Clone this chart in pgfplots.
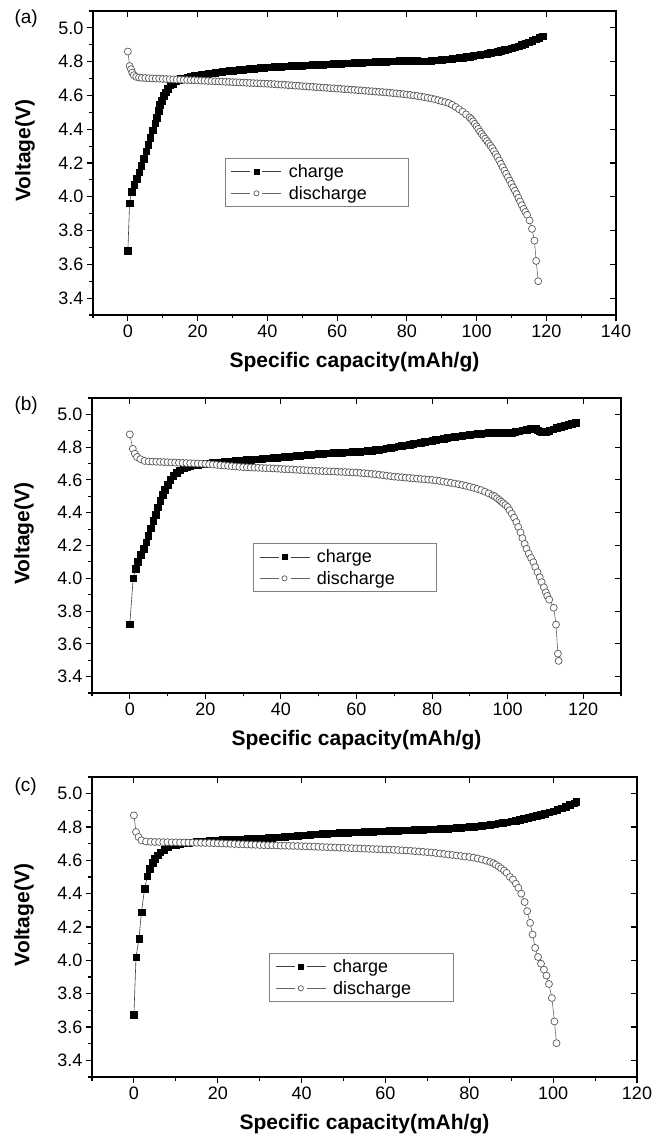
\documentclass[border=0pt]{standalone}
\usepackage{fontspec}
\setmainfont{Liberation Sans}
\usepackage{pgfplots}
\pgfplotsset{compat=1.18}
\pgfplotsset{
 base/.style={scale only axis, anchor=south west,
   ymin=3.3, ymax=5.1, xmin=-10,
   axis line style={line width=1.2pt},
   tick style={line width=1.1pt, black},
   major tick length=6pt, minor tick length=3.5pt,
 },
 main/.style={base,
   tick align=outside, xtick pos=left, ytick pos=left,
   ytick={3.4,3.6,3.8,4.0,4.2,4.4,4.6,4.8,5.0},
   minor ytick={3.3,3.5,3.7,3.9,4.1,4.3,4.5,4.7,4.9,5.1},
   yticklabel style={/pgf/number format/.cd,fixed,fixed zerofill,precision=1},
   /pgf/number format/assume math mode=true,
   tick label style={font=\fontsize{18}{18}\selectfont},
   xlabel={Specific capacity(mAh/g)}, ylabel={Voltage(V)},
   label style={font=\bfseries\fontsize{21}{21}\selectfont},
   x label style={at={([yshift=-47pt]axis description cs:0.5,0)}, anchor=center},
   y label style={at={([xshift=-68pt]axis description cs:0,0.54)}, anchor=center},
   legend cell align=left,
   legend style={draw=gray, line width=0.8pt, font=\fontsize{18}{20}\selectfont, anchor=north west, inner xsep=6pt, inner ysep=4pt, row sep=3pt},
   legend image code/.code={
     \draw[#1,mark=none] (0pt,0pt) -- (19pt,0pt);
     \draw[#1,mark=none] (31pt,0pt) -- (50pt,0pt);
     \draw[#1,mark size=2.6pt] plot coordinates {(25pt,0pt)};
   },
 },
 mirror/.style={base, tick align=inside, xtick pos=right, ytick pos=right,
   xticklabels={}, yticklabels={},
   ytick={3.4,3.6,3.8,4.0,4.2,4.4,4.6,4.8,5.0}},
 chg/.style={draw=black!75, line width=0.6pt, mark=square*, mark size=3.3pt, mark options={fill=black, draw=black, line width=0.3pt}},
 dis/.style={draw=black!60, line width=0.6pt, mark=*, mark size=3.5pt, mark options={fill=white, draw=black!65, line width=0.7pt}},
}
\begin{document}
\begin{tikzpicture}
\path (0pt,0pt) rectangle (671pt,1144pt);
\node[anchor=west, font=\fontsize{19}{19}\selectfont] at (11pt,1125pt) {(a)};
\node[anchor=west, font=\fontsize{19}{19}\selectfont] at (11pt,738pt) {(b)};
\node[anchor=west, font=\fontsize{19}{19}\selectfont] at (11pt,357pt) {(c)};
% ---------------- (a)
\begin{axis}[main, at={(93pt,829pt)}, width=523pt, height=304pt, xmax=140,
  xtick={0,20,...,140}, minor xtick={-10,10,...,130},
  legend style={at={(0.252,0.516)}}]
\addplot[chg] coordinates {(0,3.68)(0.5,3.963)(1.06,4.03)(1.8,4.07)(2.5,4.106)(3.2,4.145)(3.85,4.185)(4.5,4.225)(5.2,4.27)(5.8,4.31)(6.4,4.35)(7.1,4.395)(7.8,4.435)(8.3,4.47)(8.75,4.51)(9.2,4.544)(9.7,4.57)(10.3,4.6)(10.9,4.62)(11.4,4.64)(12.1,4.66)(12.8,4.67)(13.75,4.686)(14.7,4.695)
(15,4.698)(16,4.703)(17,4.708)(18,4.712)(19,4.716)(20,4.72)(21,4.724)(22,4.727)(23,4.73)(24,4.733)(25,4.736)(26,4.738)(27,4.741)(28,4.743)(29,4.745)(30,4.747)(31,4.749)(32,4.751)(33,4.753)(34,4.755)(35,4.757)(36,4.759)(37,4.761)(38,4.763)(39,4.765)(40,4.767)(41,4.768)(42,4.769)(43,4.77)(44,4.771)(45,4.773)(46,4.774)(47,4.775)(48,4.776)(49,4.777)(50,4.778)(51,4.779)(52,4.78)(53,4.781)(54,4.782)(55,4.783)(56,4.784)(57,4.785)(58,4.786)(59,4.787)(60,4.788)(61,4.789)(62,4.79)(63,4.791)(64,4.792)(65,4.793)(66,4.794)(67,4.795)(68,4.796)(69,4.797)(70,4.798)(71,4.799)(72,4.8)(73,4.8)(74,4.801)(75,4.802)(76,4.803)(77,4.804)(78,4.805)(79,4.805)(80,4.806)(81,4.806)(82,4.806)(83,4.805)(84,4.803)(85,4.803)(86,4.804)(87,4.806)(88,4.808)(89,4.81)(90,4.812)(91,4.814)(92,4.816)(93,4.818)(94,4.82)(95,4.822)(96,4.825)(97,4.828)(98,4.831)(99,4.834)(100,4.838)(101,4.841)(102,4.844)(103,4.848)(104,4.852)(105,4.856)(106,4.86)(107,4.865)(108,4.87)(109,4.875)(110,4.88)(111,4.886)(112,4.893)(113,4.9)(114,4.908)(115,4.916)(116,4.925)(117,4.934)(118,4.943)(119,4.952)};
\addlegendentry{\hspace*{5pt}charge}
\addplot[dis] coordinates {(0,4.86)(0.5,4.774)(0.9,4.755)(1.25,4.735)(1.7,4.72)(2.4,4.71)(3.2,4.706)(4,4.704)
(5,4.703)(6,4.702)(7,4.701)(8,4.70)(9,4.699)(10,4.698)(11,4.697)(12,4.696)(13,4.695)(14,4.694)(15,4.693)(16,4.692)(17,4.691)(18,4.69)(19,4.69)(20,4.689)(21,4.688)(22,4.687)(23,4.686)(24,4.685)(25,4.684)(26,4.683)(27,4.682)(28,4.681)(29,4.68)(30,4.679)(31,4.678)(32,4.677)(33,4.676)(34,4.675)(35,4.674)(36,4.673)(37,4.672)(38,4.671)(39,4.67)(40,4.669)(41,4.668)(42,4.667)(43,4.665)(44,4.664)(45,4.663)(46,4.661)(47,4.66)(48,4.658)(49,4.657)(50,4.655)(51,4.654)(52,4.652)(53,4.651)(54,4.649)(55,4.648)(56,4.646)(57,4.645)(58,4.643)(59,4.642)(60,4.64)(61,4.639)(62,4.637)(63,4.636)(64,4.634)(65,4.633)(66,4.631)(67,4.63)(68,4.628)(69,4.626)(70,4.625)(71,4.623)(72,4.621)(73,4.62)(74,4.618)(75,4.616)(76,4.614)(77,4.612)(78,4.61)(79,4.608)(80,4.605)(81,4.603)(82,4.6)(83,4.597)(84,4.594)(85,4.59)(86,4.586)(87,4.582)(88,4.577)(89,4.572)(90,4.566)(91,4.561)(92,4.555)(93,4.545)(94,4.532)(95,4.518)(96,4.504)(97,4.488)(98,4.47)(98.5,4.46)(99,4.447)(99.5,4.432)(100,4.417)(100.5,4.402)(101,4.386)(101.5,4.372)(102,4.358)(102.5,4.344)(103,4.33)(103.5,4.316)(104,4.302)(104.5,4.288)(105,4.27)(105.5,4.252)(106,4.235)(106.5,4.215)(107,4.195)(107.5,4.175)(108,4.155)(108.5,4.136)(109,4.116)(109.5,4.096)(110,4.076)(110.5,4.056)(111,4.036)(111.5,4.016)(112,3.994)(112.5,3.972)(113,3.95)(113.5,3.928)(114,3.91)(114.5,3.893)(115.2,3.86)(115.9,3.81)(116.6,3.74)(117.1,3.62)(117.7,3.50)};
\addlegendentry{\hspace*{5pt}discharge\hspace*{34pt}}
\end{axis}
\begin{axis}[mirror, at={(93pt,829pt)}, width=523pt, height=304pt, xmax=140, xtick={0,20,...,140}]
\end{axis}
% ---------------- (b)
\begin{axis}[main, at={(92pt,451pt)}, width=529pt, height=295pt, xmax=130,
  xtick={0,20,...,120}, minor xtick={-10,10,...,130},
  legend style={at={(0.304,0.508)}}]
\addplot[chg] coordinates {(0,3.72)(0.9,4.0)(1.5,4.06)(2.1,4.10)(2.9,4.145)(3.6,4.18)(4.3,4.22)(4.85,4.26)(5.5,4.305)(6.2,4.35)(6.8,4.39)(7.4,4.435)(8.0,4.475)(8.7,4.51)(9.2,4.54)(10,4.57)(10.7,4.6)(11.5,4.625)(12.4,4.645)(13.2,4.66)(14.3,4.673)
(15,4.68)(16,4.686)(17,4.69)(18,4.694)(19,4.697)(20,4.70)(21,4.702)(22,4.704)(23,4.706)(24,4.708)(25,4.71)(26,4.712)(27,4.714)(28,4.716)(29,4.718)(30,4.72)(31,4.722)(32,4.724)(33,4.726)(34,4.728)(35,4.73)(36,4.732)(37,4.734)(38,4.736)(39,4.737)(40,4.739)(41,4.741)(42,4.743)(43,4.745)(44,4.747)(45,4.749)(46,4.751)(47,4.753)(48,4.755)(49,4.757)(50,4.759)(51,4.761)(52,4.763)(53,4.764)(54,4.766)(55,4.767)(56,4.768)(57,4.769)(58,4.77)(59,4.771)(60,4.772)(61,4.774)(62,4.776)(63,4.778)(64,4.78)(65,4.783)(66,4.786)(67,4.789)(68,4.793)(69,4.797)(70,4.801)(71,4.805)(72,4.809)(73,4.813)(74,4.817)(75,4.821)(76,4.825)(77,4.829)(78,4.833)(79,4.837)(80,4.841)(81,4.845)(82,4.849)(83,4.853)(84,4.857)(85,4.861)(86,4.864)(87,4.867)(88,4.87)(89,4.873)(90,4.876)(91,4.879)(92,4.881)(93,4.883)(94,4.885)(95,4.887)(96,4.888)(97,4.889)(98,4.889)(99,4.888)(100,4.887)(101,4.889)(102,4.893)(103,4.898)(104,4.903)(105,4.908)(106,4.913)(107,4.917)(107.5,4.915)(108,4.905)(108.5,4.897)(109,4.893)(109.5,4.892)(110,4.893)(111,4.9)(112,4.91)(113,4.918)(114,4.925)(115,4.932)(116,4.938)(117,4.944)(118,4.95)};
\addlegendentry{\hspace*{5pt}charge}
\addplot[dis] coordinates {(0,4.878)(0.8,4.79)(1.35,4.76)(1.9,4.74)(2.8,4.727)(3.9,4.716)
(5,4.713)(6,4.712)(7,4.711)(8,4.71)(9,4.709)(10,4.708)(11,4.707)(12,4.706)(13,4.705)(14,4.704)(15,4.703)(16,4.702)(17,4.701)(18,4.70)(19,4.699)(20,4.698)(21,4.696)(22,4.694)(23,4.692)(24,4.69)(25,4.688)(26,4.686)(27,4.684)(28,4.682)(29,4.68)(30,4.678)(31,4.677)(32,4.676)(33,4.675)(34,4.674)(35,4.673)(36,4.672)(37,4.671)(38,4.67)(39,4.669)(40,4.667)(41,4.666)(42,4.665)(43,4.664)(44,4.662)(45,4.661)(46,4.66)(47,4.658)(48,4.657)(49,4.656)(50,4.655)(51,4.654)(52,4.653)(53,4.652)(54,4.651)(55,4.65)(56,4.649)(57,4.648)(58,4.647)(59,4.646)(60,4.645)(61,4.643)(62,4.641)(63,4.639)(64,4.637)(65,4.635)(66,4.632)(67,4.629)(68,4.626)(69,4.623)(70,4.62)(71,4.618)(72,4.616)(73,4.614)(74,4.612)(75,4.61)(76,4.608)(77,4.606)(78,4.604)(79,4.602)(80,4.6)(81,4.597)(82,4.594)(83,4.59)(84,4.586)(85,4.582)(86,4.578)(87,4.574)(88,4.569)(89,4.564)(90,4.558)(91,4.552)(92,4.545)(93,4.538)(94,4.528)(95,4.518)(96,4.506)(96.6,4.5)(97.2,4.488)(97.8,4.478)(98.3,4.468)(98.8,4.458)(99.4,4.447)(100,4.435)(100.5,4.415)(101.1,4.394)(101.7,4.37)(102.3,4.343)(102.8,4.313)(103.4,4.28)(103.9,4.245)(104.5,4.21)(105,4.18)(105.6,4.15)(106.2,4.124)(106.8,4.098)(107.3,4.068)(107.9,4.037)(108.5,4.006)(109,3.976)(109.6,3.945)(110.1,3.914)(110.5,3.892)(111,3.87)(112.2,3.82)(112.8,3.717)(113.3,3.54)(113.5,3.496)};
\addlegendentry{\hspace*{5pt}discharge\hspace*{34pt}}
\end{axis}
\begin{axis}[mirror, at={(92pt,451pt)}, width=529pt, height=295pt, xmax=130, xtick={0,20,...,120}]
\end{axis}
% ---------------- (c)
\begin{axis}[main, at={(92pt,67pt)}, width=545pt, height=300pt, xmax=120,
  xtick={0,20,...,120}, minor xtick={-10,10,...,110},
  legend style={at={(0.325,0.413)}}]
\addplot[chg] coordinates {(0,3.673)(0.5,4.02)(1.2,4.13)(1.8,4.29)(2.55,4.43)(3.2,4.505)(3.8,4.55)(4.4,4.585)(5.0,4.61)(5.6,4.63)(6.3,4.65)(7.2,4.665)(8.2,4.68)(9.2,4.69)(10,4.695)(11,4.70)
(12,4.704)(13,4.707)(14,4.71)(15,4.712)(16,4.714)(17,4.716)(18,4.718)(19,4.72)(20,4.722)(21,4.723)(22,4.724)(23,4.725)(24,4.726)(25,4.727)(26,4.728)(27,4.729)(28,4.73)(29,4.731)(30,4.733)(31,4.734)(32,4.735)(33,4.737)(34,4.738)(35,4.74)(36,4.742)(37,4.744)(38,4.746)(39,4.748)(40,4.75)(41,4.752)(42,4.754)(43,4.756)(44,4.758)(45,4.76)(46,4.761)(47,4.762)(48,4.764)(49,4.765)(50,4.766)(51,4.767)(52,4.768)(53,4.769)(54,4.77)(55,4.771)(56,4.772)(57,4.773)(58,4.774)(59,4.775)(60,4.776)(61,4.777)(62,4.778)(63,4.779)(64,4.78)(65,4.781)(66,4.782)(67,4.783)(68,4.784)(69,4.785)(70,4.786)(71,4.787)(72,4.788)(73,4.789)(74,4.79)(75,4.791)(76,4.793)(77,4.795)(78,4.797)(79,4.799)(80,4.801)(81,4.803)(82,4.806)(83,4.809)(84,4.812)(85,4.815)(86,4.818)(87,4.822)(88,4.826)(89,4.83)(90,4.834)(91,4.839)(92,4.844)(93,4.849)(94,4.855)(95,4.861)(96,4.867)(97,4.874)(98,4.881)(99,4.888)(100,4.895)(101,4.903)(102,4.912)(103,4.922)(104,4.933)(105,4.944)(105.5,4.952)};
\addlegendentry{\hspace*{5pt}charge}
\addplot[dis] coordinates {(0,4.87)(0.5,4.77)(1.1,4.74)(1.8,4.72)(2.9,4.713)(4,4.711)
(5,4.71)(6,4.71)(7,4.709)(8,4.709)(9,4.708)(10,4.708)(11,4.707)(12,4.707)(13,4.706)(14,4.706)(15,4.705)(16,4.705)(17,4.704)(18,4.704)(19,4.703)(20,4.702)(21,4.701)(22,4.70)(23,4.699)(24,4.698)(25,4.697)(26,4.696)(27,4.695)(28,4.694)(29,4.693)(30,4.692)(31,4.691)(32,4.69)(33,4.69)(34,4.689)(35,4.688)(36,4.688)(37,4.687)(38,4.686)(39,4.686)(40,4.685)(41,4.684)(42,4.683)(43,4.682)(44,4.681)(45,4.68)(46,4.679)(47,4.678)(48,4.677)(49,4.676)(50,4.675)(51,4.674)(52,4.673)(53,4.672)(54,4.671)(55,4.67)(56,4.669)(57,4.668)(58,4.667)(59,4.666)(60,4.665)(61,4.664)(62,4.663)(63,4.662)(64,4.66)(65,4.659)(66,4.657)(67,4.655)(68,4.653)(69,4.651)(70,4.649)(71,4.647)(72,4.644)(73,4.641)(74,4.638)(75,4.635)(76,4.632)(77,4.629)(78,4.626)(79,4.623)(80,4.62)(81,4.616)(82,4.611)(83,4.605)(84,4.598)(85,4.59)(85.7,4.583)(86.3,4.574)(87,4.563)(87.6,4.552)(88.3,4.539)(88.9,4.525)(89.7,4.50)(90.4,4.485)(91.1,4.46)(91.7,4.435)(92.4,4.40)(93.2,4.35)(93.8,4.295)(94.5,4.225)(95.1,4.155)(95.7,4.075)(96.4,4.02)(97.1,3.98)(97.8,3.944)(98.4,3.908)(99,3.858)(99.7,3.774)(100.3,3.633)(100.8,3.503)};
\addlegendentry{\hspace*{5pt}discharge\hspace*{34pt}}
\end{axis}
\begin{axis}[mirror, at={(92pt,67pt)}, width=545pt, height=300pt, xmax=120, xtick={0,20,...,120}]
\end{axis}
\end{tikzpicture}
\end{document}
